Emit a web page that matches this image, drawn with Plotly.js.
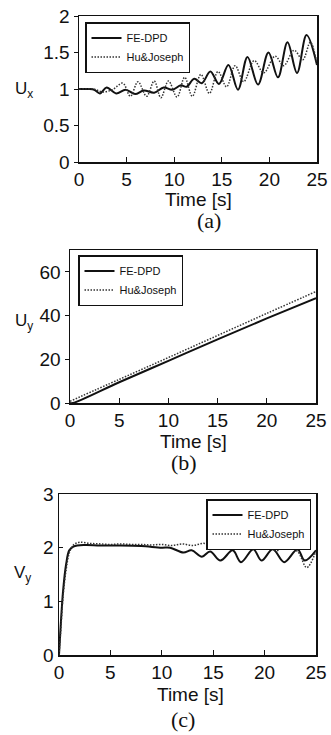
<!DOCTYPE html>
<html>
<head>
<meta charset="utf-8">
<script src="https://cdn.plot.ly/plotly-3.0.1.min.js"></script>
<style>html,body{margin:0;padding:0;background:#fff;}#chart{width:331px;height:735px;}</style>
</head>
<body>
<div id="chart"></div>
<script>
// ---- Data ----
const seriesNames = ["FE-DPD", "Hu&Joseph"];
const xTicks = [0, 5, 10, 15, 20, 25];

// (a) Ux
const feUxT = [0, 1, 1.6, 2.2, 2.9, 3.9, 4.9, 5.9, 6.8, 7.9, 8.9, 9.8, 10.7, 11.3, 12.1, 12.9, 13.8, 14.7, 15.7, 16.7, 17.7, 18.8, 19.9, 20.9, 21.9, 22.9, 23.9, 25];
const feUx  = [1.0, 1.0, 0.99, 0.94, 1.02, 0.94, 0.99, 0.93, 0.98, 0.95, 1.02, 0.99, 1.05, 1.03, 1.14, 1.08, 1.24, 1.07, 1.33, 0.99, 1.44, 1.06, 1.50, 1.16, 1.64, 1.22, 1.74, 1.33];
const hjUxT = [0, 1.5, 2.5, 3.5, 4.6, 5.4, 6.2, 7.1, 7.9, 8.6, 9.4, 10.3, 11.1, 11.9, 12.8, 13.7, 14.6, 15.5, 16.4, 17.3, 18.4, 19.4, 20.6, 21.5, 22.6, 23.5, 24.3, 25];
const hjUx  = [1.0, 1.0, 0.96, 0.99, 1.08, 0.90, 1.10, 0.90, 1.11, 0.88, 1.11, 0.89, 1.16, 0.90, 1.20, 0.94, 1.24, 1.03, 1.32, 1.10, 1.39, 1.22, 1.45, 1.32, 1.53, 1.40, 1.64, 1.34];

// (b) Uy
const feUyT = [0, 0.3, 5, 10, 15, 20, 25];
const feUy  = [0, 0, 9.5, 19.3, 29.1, 38.7, 48.0];
const hjUyT = [0, 5, 10, 15, 20, 25];
const hjUy  = [0.8, 10.8, 20.8, 30.9, 41.0, 51.0];

// (c) Vy
const feVyT = [0, 0.15, 0.4, 0.7, 1.0, 1.4, 2.5, 4, 6, 8, 10, 10.8, 12.1, 12.9, 13.9, 14.7, 15.7, 16.9, 17.7, 18.9, 19.7, 20.8, 21.9, 23.2, 23.9, 25];
const feVy  = [0, 0.5, 1.2, 1.7, 1.95, 2.02, 2.05, 2.04, 2.04, 2.03, 2.0, 2.0, 1.91, 1.95, 1.83, 1.93, 1.76, 1.95, 1.73, 1.97, 1.76, 1.97, 1.73, 1.97, 1.76, 1.95];
const hjVyT = [0, 0.15, 0.4, 0.7, 1.0, 1.4, 2.0, 3, 4, 5, 6, 7, 8, 9, 10, 11, 12, 13, 14, 15, 16, 16.9, 18.2, 19.2, 20.1, 21.1, 22.0, 23.2, 24.1, 25];
const hjVy  = [0, 0.4, 1.1, 1.6, 1.9, 2.05, 2.1, 2.08, 2.07, 2.06, 2.07, 2.06, 2.06, 2.05, 2.06, 2.04, 2.07, 2.04, 2.08, 2.06, 2.09, 2.0, 2.08, 1.97, 2.06, 1.94, 2.02, 1.93, 1.63, 1.94];

// ---- Styles ----
const W = 331, H = 735;
const solid = {color: "#111", width: 2, shape: "spline", smoothing: 1};
const dotted = {color: "#333", width: 1.5, dash: "1.5px,1.5px", shape: "spline", smoothing: 1};
const sans = "Liberation Sans, Arial, sans-serif";
const serif = "Liberation Serif, Times New Roman, serif";

function tr(x, y, name, line, xa, ya, leg) {
  return {x: x, y: y, name: name, type: "scatter", mode: "lines", line: line, xaxis: xa, yaxis: ya, legend: leg};
}
const data = [
  tr(feUxT, feUx, seriesNames[0], solid, "x", "y", "legend"),
  tr(hjUxT, hjUx, seriesNames[1], dotted, "x", "y", "legend"),
  tr(feUyT, feUy, seriesNames[0], solid, "x2", "y2", "legend2"),
  tr(hjUyT, hjUy, seriesNames[1], dotted, "x2", "y2", "legend2"),
  tr(feVyT, feVy, seriesNames[0], solid, "x3", "y3", "legend3"),
  tr(hjVyT, hjVy, seriesNames[1], dotted, "x3", "y3", "legend3")
];

function px(v) { return v / W; }
function py(v) { return 1 - v / H; }

function xax(l, r, anchor) {
  return {domain: [px(l), px(r)], range: [0, 25], anchor: anchor, tickvals: xTicks,
    ticks: "inside", ticklen: 5, tickwidth: 1, tickcolor: "#111",
    showline: true, mirror: true, linecolor: "#111", linewidth: 1.5,
    showgrid: false, zeroline: false, fixedrange: true,
    tickfont: {family: sans, size: 19, color: "#111"}};
}
function yax(t, b, anchor, range, tv, tt, tickdir) {
  return {domain: [py(b), py(t)], range: range, anchor: anchor, tickvals: tv, ticktext: tt,
    ticks: tickdir, ticklen: 4, tickwidth: 1, tickcolor: "#111",
    showline: true, mirror: true, linecolor: "#111", linewidth: 1.5,
    showgrid: false, zeroline: false, fixedrange: true,
    tickfont: {family: sans, size: 19, color: "#111"}};
}
function leg(xl, yt, xanchor) {
  return {x: px(xl), y: py(yt), xanchor: xanchor, yanchor: "top",
    bordercolor: "#111", borderwidth: 1.5, bgcolor: "#fff",
    font: {family: sans, size: 11, color: "#111"}, tracegroupgap: 0,
    itemwidth: 30};
}
function ann(text, x, y, size, family) {
  return {text: text, x: px(x), y: py(y), xref: "paper", yref: "paper",
    xanchor: "center", yanchor: "middle", showarrow: false,
    font: {family: family, size: size, color: "#111"}};
}

const layout = {
  width: W, height: H,
  margin: {l: 0, r: 0, t: 0, b: 0},
  paper_bgcolor: "#fff", plot_bgcolor: "#fff",
  showlegend: true,
  xaxis: xax(79, 317, "y"),
  yaxis: yax(16, 162, "x", [0, 2], [0, 0.5, 1, 1.5, 2], ["0", "0.5", "1", "1.5", "2"], "outside"),
  xaxis2: xax(70, 316, "y2"),
  yaxis2: yax(250, 403, "x2", [0, 70], [0, 20, 40, 60], ["0", "20", "40", "60"], "outside"),
  xaxis3: xax(59, 316, "y3"),
  yaxis3: yax(494, 655, "x3", [0, 3], [0, 1, 2, 3], ["0", "1", "2", "3"], "inside"),
  legend: leg(85, 22, "left"),
  legend2: leg(78, 255, "left"),
  legend3: leg(311, 499, "right"),
  annotations: [
    ann("U<sub>x</sub>", 24, 90, 17, sans),
    ann("U<sub>y</sub>", 24, 322, 17, sans),
    ann("V<sub>y</sub>", 22, 574, 17, sans),
    ann("Time [s]", 198, 199, 19, sans),
    ann("Time [s]", 193, 441, 19, sans),
    ann("Time [s]", 190, 694, 19, sans),
    ann("(a)", 209, 221, 22, serif),
    ann("(b)", 184, 462, 22, serif),
    ann("(c)", 183, 719, 22, serif)
  ]
};

Plotly.newPlot("chart", data, layout, {displayModeBar: false, staticPlot: true});
</script>
</body>
</html>
